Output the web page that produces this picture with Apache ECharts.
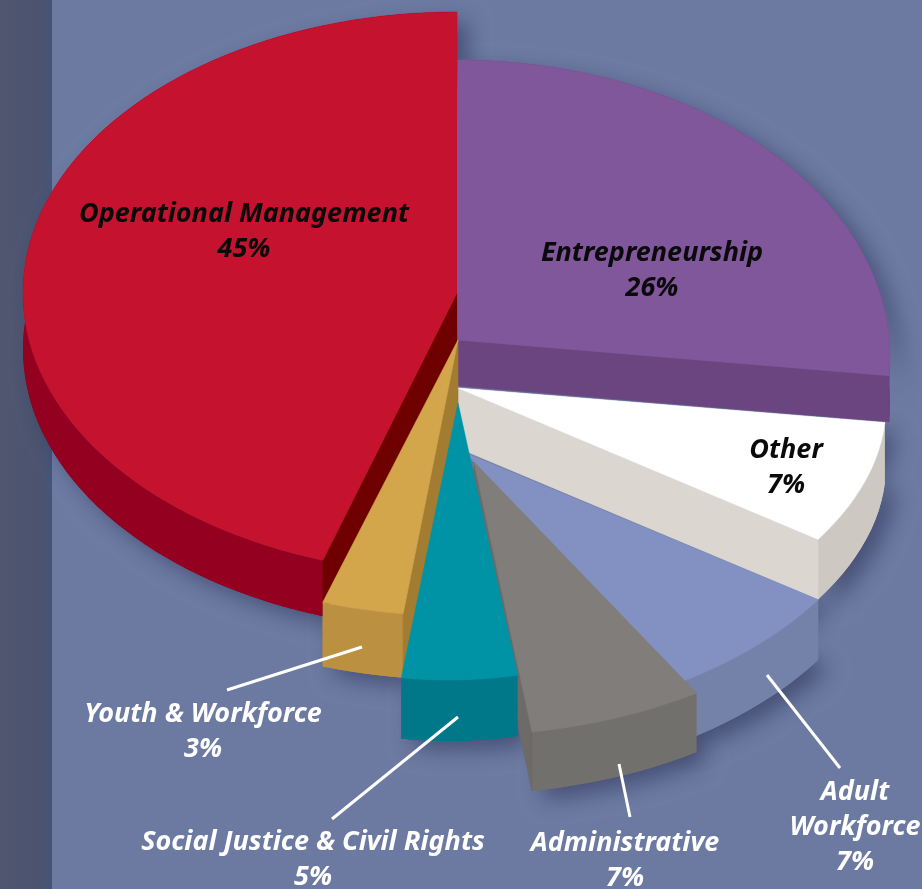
<!DOCTYPE html>
<html>
<head>
<meta charset="utf-8">
<style>html,body{margin:0;padding:0;background:#6c7aa2}#chart{width:922px;height:889px}</style>
<script src="https://cdn.jsdelivr.net/npm/echarts@6/dist/echarts.min.js"></script>
</head>
<body>
<div id="chart"></div>
<script>
// Program shares, clockwise from twelve o'clock.
var categories = ['Entrepreneurship', 'Other', 'Adult Workforce', 'Administrative',
  'Social Justice & Civil Rights', 'Youth & Workforce', 'Operational Management'];
var shares = [26, 7, 7, 7, 5, 3, 45];
var labelNames = ['Entrepreneurship', 'Other', 'Adult\nWorkforce', 'Administrative',
  'Social Justice & Civil Rights', 'Youth & Workforce', 'Operational Management'];

// Back-to-front painting order of the exploded wedges.
var paintOrder = [6, 0, 1, 2, 3, 5, 4];

// Projected disc of each wedge: ellipse centre and radii, the wedge tip, extrusion depth.
var discs = [
  { cx: 458, cy: 357, rx: 432, ry: 297, tip: [458, 340], depth: 46, wall: 'end' },
  { cx: 337, cy: 405, rx: 549, ry: 279, tip: [458, 388], depth: 60, wall: 'end' },
  { cx: 374, cy: 473, rx: 507, ry: 263, tip: [466, 453], depth: 60, wall: null },
  { cx: 455, cy: 511, rx: 411, ry: 225, tip: [474, 462], depth: 59, wall: 'end' },
  { cx: 448, cy: 404, rx: 372, ry: 276, tip: [458, 403], depth: 61, wall: null },
  { cx: 458, cy: 340, rx: 438, ry: 276, tip: [458, 340], depth: 64, wall: 'start' },
  { cx: 457, cy: 293, rx: 434, ry: 281, tip: [457, 293], depth: 56, wall: 'start' }
];

var palette = [
  { top: '#80579a', side: '#6b457f', wall: '#6b457f' },
  { top: '#ffffff', side: '#cdc8c1', wall: '#dcd6d0' },
  { top: '#8291c2', side: '#7482aa', wall: '#7482aa' },
  { top: '#807d7b', side: '#72706d', wall: '#6d6a67' },
  { top: '#0093a5', side: '#00788a', wall: '#00788a' },
  { top: '#d3a64c', side: '#bb9040', wall: '#a27c30' },
  { top: '#c4122f', side: '#930020', wall: '#6e0000' }
];

// Label anchors, text colours and leader lines.
var labelPlaces = [
  { x: 652, y: 271, fill: '#0a0a0a' },
  { x: 786, y: 468, fill: '#0a0a0a' },
  { x: 855, y: 827, fill: '#ffffff', lead: [[767, 675], [840, 768]] },
  { x: 625, y: 861, fill: '#ffffff', lead: [[619, 764], [630, 817]] },
  { x: 313, y: 860, fill: '#ffffff', lead: [[458, 717], [332, 819]] },
  { x: 203, y: 732, fill: '#ffffff', lead: [[362, 647], [227, 690]] },
  { x: 244, y: 232, fill: '#0a0a0a' }
];

// Cumulative start angle of each wedge, in degrees.
var startAngles = shares.map(function (s, i) {
  return shares.slice(0, i).reduce(function (a, b) { return a + b; }, 0) * 3.6;
});

function arcPoints(disc, from, to, drop) {
  var pts = [];
  var steps = Math.max(6, Math.ceil((to - from) / 2));
  for (var k = 0; k <= steps; k++) {
    var a = (from + (to - from) * k / steps) * Math.PI / 180;
    pts.push([disc.cx + disc.rx * Math.sin(a), disc.cy - disc.ry * Math.cos(a) + drop]);
  }
  return pts;
}

function poly(points, fill, extra) {
  var style = { fill: fill, stroke: fill, lineWidth: 0.6 };
  if (extra) { for (var key in extra) { style[key] = extra[key]; } }
  return { type: 'polygon', shape: { points: points }, style: style };
}

function wedgeAngles(api) {
  var i = api.value(0);
  var from = startAngles[i];
  return { i: i, from: from, to: from + api.value(1) * 3.6, disc: discs[i] };
}

function renderShadow(params, api) {
  var w = wedgeAngles(api);
  var d = w.disc;
  var bottom = arcPoints(d, w.from, w.to, d.depth);
  var outline = [d.tip].concat(arcPoints(d, w.from, w.to, 0)).concat(bottom.slice().reverse());
  return poly(outline, palette[w.i].side, {
    stroke: null, lineWidth: 0,
    shadowColor: 'rgba(34,38,74,0.5)', shadowBlur: 22, shadowOffsetX: 11, shadowOffsetY: 9
  });
}

function renderWedge(params, api) {
  var w = wedgeAngles(api);
  var d = w.disc;
  var c = palette[w.i];
  var arc = arcPoints(d, w.from, w.to, 0);
  var low = arcPoints(d, w.from, w.to, d.depth);
  // The outer rim only shows below the top face, so it carries no outline of its own.
  var parts = [poly(arc.concat(low.slice().reverse()), c.side, { stroke: null, lineWidth: 0 })];
  if (d.wall) {
    var edge = d.wall === 'end' ? arc[arc.length - 1] : arc[0];
    parts.push(poly([d.tip, edge, [edge[0], edge[1] + d.depth], [d.tip[0], d.tip[1] + d.depth]], c.wall));
  }
  parts.push(poly([d.tip].concat(arc), c.top));
  return { type: 'group', children: parts };
}

function renderLabel(params, api) {
  var i = api.value(0);
  var place = labelPlaces[i];
  var children = [];
  if (place.lead) {
    children.push({
      type: 'line',
      shape: { x1: place.lead[0][0], y1: place.lead[0][1], x2: place.lead[1][0], y2: place.lead[1][1] },
      style: { stroke: '#ffffff', lineWidth: 3 }
    });
  }
  children.push({
    type: 'text',
    style: {
      text: labelNames[i] + '\n' + api.value(1) + '%',
      x: place.x, y: place.y, align: 'center', verticalAlign: 'middle',
      fill: place.fill, lineHeight: 35,
      font: 'italic 700 27px "Noto Sans", "Open Sans", sans-serif'
    }
  });
  return { type: 'group', children: children };
}

var rows = paintOrder.map(function (i) { return [i, shares[i]]; });

var chart = echarts.init(document.getElementById('chart'), null, { renderer: 'canvas' });
chart.setOption({
  animation: false,
  backgroundColor: '#6c7aa2',
  graphic: [{
    type: 'rect', z: -1, silent: true,
    shape: { x: 0, y: 0, width: 52, height: 889 },
    style: {
      fill: { type: 'linear', x: 0, y: 0, x2: 1, y2: 0, colorStops: [
        { offset: 0, color: '#50566f' }, { offset: 0.8, color: '#4b5370' }, { offset: 1, color: '#465479' }
      ] }
    }
  }],
  series: [
    { type: 'custom', coordinateSystem: 'none', silent: true, z: 1, data: rows, renderItem: renderShadow },
    { type: 'custom', coordinateSystem: 'none', silent: true, z: 2, data: rows, renderItem: renderWedge },
    { type: 'custom', coordinateSystem: 'none', silent: true, z: 3, data: rows, renderItem: renderLabel }
  ]
});
</script>
</body>
</html>
